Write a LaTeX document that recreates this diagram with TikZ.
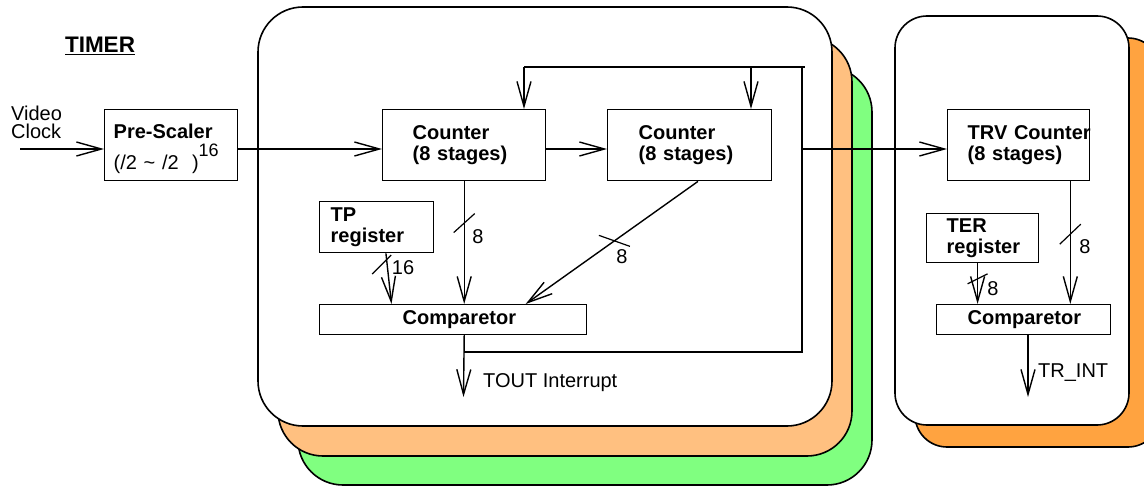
\documentclass[tikz,border=0pt]{standalone}
\usepackage{fontspec}
\setmainfont{Liberation Sans}
\usetikzlibrary{arrows.meta, calc, positioning}
\definecolor{peach}{RGB}{255,192,128}
\definecolor{mint}{RGB}{128,255,128}
\definecolor{amber}{RGB}{255,163,64}
\newcommand{\nsize}{\fontsize{20}{21.7}\selectfont}
\tikzset{
  card/.style = {draw, line width=1.6pt, rounded corners=45pt},
  blk/.style = {draw, line width=1.4pt, fill=white, anchor=north west, align=left, inner ysep=0pt, font=\nsize\bfseries},
  wire/.style = {line width=1.4pt},
  flow/.style = {wire, -{Straight Barb[length=25pt, width=14pt]}},
  slash/.style = {line width=1.2pt},
  lbl/.style = {font=\nsize, inner sep=0pt, anchor=base}
}

\begin{document}
\begin{tikzpicture}[x=1pt, y=-1pt]
  \useasboundingbox (0,0) rectangle (1144,487);
  \clip (0,0) rectangle (1144,487);

  % stacked timer channels
  \draw[card, fill=mint] (298,67) rectangle (872,485);
  \draw[card, fill=peach] (278,37) rectangle (852,456);
  \draw[card, fill=white] (258,7) rectangle (832,426);
  \draw[card, rounded corners=32pt, fill=amber] (915,38) rectangle (1160,447);
  \draw[card, rounded corners=32pt, fill=white] (895,16) rectangle (1129,425);

  \node[font=\fontsize{22.5}{24}\selectfont\bfseries, inner sep=0pt] (title) at (100,46) {\underline{TIMER}};
  \node[inner sep=0pt, anchor=west, align=left, font=\fontsize{20}{18}\selectfont] (vclk) at (11,122) {Video\\Clock};

  \node[blk, minimum width=133pt, minimum height=71pt, inner xsep=9pt, text width=115pt] (pre) at (104,109)
    {\rule{0pt}{22pt}Pre-Scaler\\[9pt]\mdseries(/2 \textasciitilde{} /2\ \ )\smash{\raisebox{13pt}{\fontsize{18}{18}\selectfont 16}}};
  \node[blk, minimum width=163pt, minimum height=71pt, inner xsep=30pt, text width=103pt] (cnta) at (382,109) {Counter\\(8 stages)};
  \node[blk, minimum width=164pt, minimum height=71pt, inner xsep=31pt, text width=102pt] (cntb) at (607,109) {Counter\\(8 stages)};
  \node[blk, minimum width=114pt, minimum height=51pt, inner xsep=11pt, text width=92pt] (tpreg) at (319,201) {TP\\register};
  \node[blk, minimum width=267pt, minimum height=30pt, inner xsep=83pt, text width=101pt] (cmpa) at (319,304) {Comparetor};

  \node[blk, minimum width=142pt, minimum height=71pt, inner xsep=20pt, text width=102pt] (trv) at (947,109) {TRV~Counter\\(8 stages)};
  \node[blk, minimum width=112pt, minimum height=49pt, inner xsep=20pt, text width=72pt] (terreg) at (926,213) {TER\\register};
  \node[blk, minimum width=174pt, minimum height=30pt, inner xsep=31pt, text width=112pt] (cmpb) at (936,304) {Comparetor};

  % free ends and taps
  \coordinate (vin) at (20,149);
  \coordinate (busTL) at (524,67);
  \coordinate (busTB) at (751,67);
  \coordinate (busTR) at (802,67);
  \coordinate (busEnd) at (805,67);
  \coordinate (busBR) at (802,352);
  \coordinate (tout) at (463.5,397);
  \coordinate (trint) at (1028,397);
  \coordinate (cao) at (cnta.south |- cmpa.south);
  \coordinate (cai) at (cnta.south |- cmpa.north);
  \coordinate (tpo) at ($(tpreg.south west)!0.58!(tpreg.south east)$);
  \coordinate (tpi) at ($(cmpa.north west)!0.27!(cmpa.north east)$);
  \coordinate (cbo) at ($(cntb.south west)!0.55!(cntb.south east)$);
  \coordinate (cbi) at ($(cmpa.north west)!0.77!(cmpa.north east)$);
  \coordinate (trvo) at ($(trv.south west)!0.86!(trv.south east)$);
  \coordinate (tero) at ($(terreg.south west)!0.455!(terreg.south east)$);
  \coordinate (cbout) at (trint |- cmpb.south);

  % clock path and feedback bus
  \draw[flow] (vin) -- (vin -| pre.west);
  \draw[flow] (pre.east |- vin) -- (cnta.west |- vin);
  \draw[flow] (cnta.east |- vin) -- (cntb.west |- vin);
  \draw[flow] (busTR |- vin) -- (trv.west |- vin);
  \draw[wire] (cao) |- (busBR) -- (busTR) -- (busEnd);
  \draw[wire] (busTR) -- (busTL);
  \draw[flow] (busTL) -- (busTL |- cnta.north);
  \draw[flow] (busTB) -- (busTB |- cntb.north);

  % compare inputs, timer channel
  \draw[flow] (cnta.south) -- (cai);
  \draw[flow] (tpo) -- (tpi);
  \draw[flow] (cbo) -- (cbi);
  \draw[flow] (cao) -- (tout);
  \draw[slash] ($(cnta.south)!0.34!(cai)$) ++(-10.5,9.5) -- ++(21,-19);
  \draw[slash] ($(tpo)!0.22!(tpi)$) ++(-15,9.5) -- ++(19,-19);
  \draw[slash] ($(cbo)!0.485!(cbi)$) ++(-15.5,-5.5) -- ++(31,11);
  \node[lbl] (wa) at (478,243) {8};
  \node[lbl] (wtp) at (403,274) {16};
  \node[lbl] (wb) at (622,263) {8};
  \node[lbl, anchor=base west] (toutl) at (483,387) {TOUT Interrupt};

  % compare inputs, TRV channel
  \draw[flow] (trvo) -- (trvo |- cmpb.north);
  \draw[flow] (tero) -- (tero |- cmpb.north);
  \draw[flow] (cbout) -- (trint);
  \draw[slash] ($(trvo)!0.43!(trvo |- cmpb.north)$) ++(-10.5,10) -- ++(21,-20);
  \draw[slash] ($(tero)!0.38!(tero |- cmpb.north)$) ++(-10,5) -- ++(20,-10);
  \node[lbl] (wtrv) at (1085,253) {8};
  \node[lbl] (wter) at (993,295) {8};
  \node[lbl, anchor=base west] (trintl) at (1038,377) {TR\_INT};
\end{tikzpicture}
\end{document}
